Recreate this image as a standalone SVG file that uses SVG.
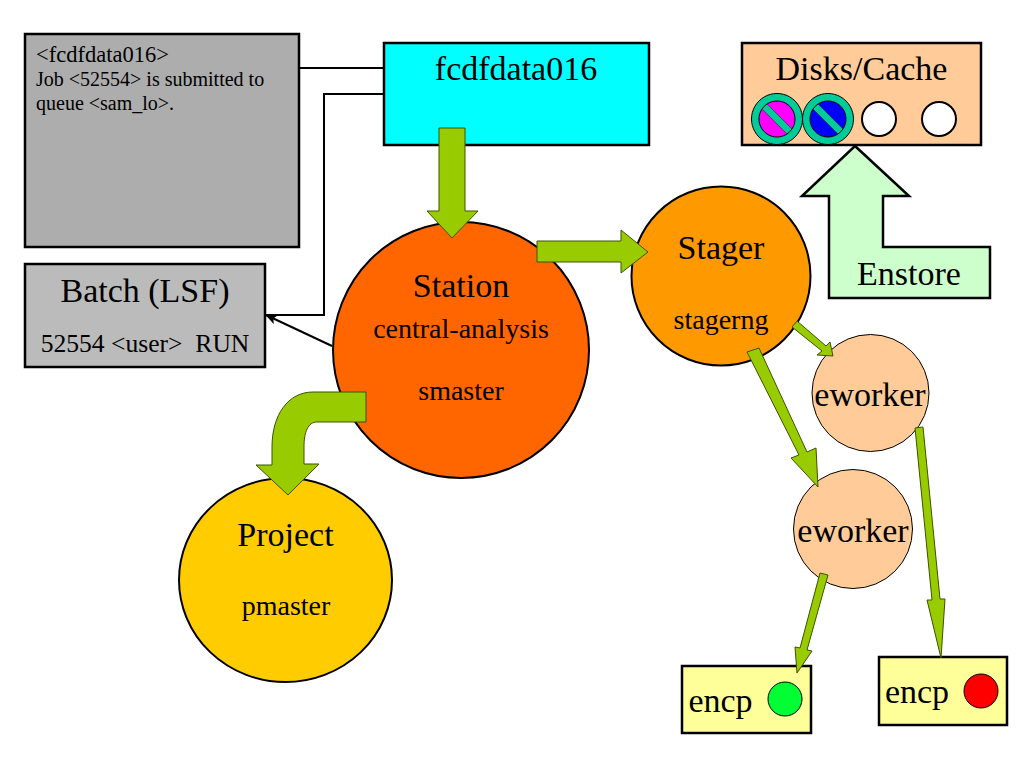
<svg xmlns="http://www.w3.org/2000/svg" width="1024" height="768" viewBox="0 0 1024 768">
<style>
text{font-family:"Liberation Serif","Times New Roman",serif;fill:#000;text-anchor:middle}
.box{stroke:#000;stroke-width:2.5}
.c{stroke:#000;stroke-width:2}
.g{fill:#99cc00;stroke:#3d5200;stroke-width:1}
.l{fill:none;stroke:#000;stroke-width:2}
.s{text-anchor:start}
.t{font-size:34px}
.m{font-size:28px}
.ring{fill:#00cc99;fill-rule:evenodd;stroke:#000;stroke-width:1}
.bar{fill:#00cc99;stroke:#333;stroke-width:.7}
</style>
<defs>
<marker id="ah" markerUnits="userSpaceOnUse" markerWidth="12" markerHeight="10" refX="11" refY="5" orient="auto"><path d="M0 0L12 5L0 10L3 5Z" fill="#000"/></marker>
<g id="no"><path class="bar" d="M-16 -11L-11 -16L16 11L11 16Z"/><path class="ring" d="M0 -25.5a25.5 25.5 0 1 0 .01 0ZM0 -18a18 18 0 1 1 -.01 0Z"/></g>
</defs>
<rect width="1024" height="768" fill="#fff"/>
<g id="output"><rect class="box" x="25" y="34" width="274" height="213" fill="#adadad"/>
<text class="s" x="36" y="62" font-size="22.5">&lt;fcdfdata016&gt;</text>
<text class="s" x="36" y="86" font-size="20">Job &lt;52554&gt; is submitted to</text>
<text class="s" x="36" y="110" font-size="20">queue &lt;sam_lo&gt;.</text></g>
<g id="batch"><rect class="box" x="25" y="264" width="240" height="103" fill="#bbb"/>
<text class="t" x="145" y="302">Batch (LSF)</text>
<text x="145" y="352" font-size="25.6" xml:space="preserve">52554 &lt;user&gt;  RUN</text></g>
<g id="fcdfdata016"><rect class="box" x="384" y="43" width="265" height="102" fill="#00ffff"/>
<text class="t" x="516" y="80">fcdfdata016</text></g>
<g id="station"><circle class="c" cx="461" cy="350" r="128" fill="#ff6600"/>
<text class="t" x="461" y="297">Station</text>
<text class="m" x="461" y="338">central-analysis</text>
<text class="m" x="461" y="400">smaster</text></g>
<g id="stager"><circle class="c" cx="721" cy="276" r="89.5" fill="#ff9900"/>
<text class="t" x="721" y="259">Stager</text>
<text class="m" x="721" y="329">stagerng</text></g>
<g id="project"><ellipse class="c" cx="285.5" cy="580" rx="106.5" ry="102" fill="#ffcc00"/>
<text class="t" x="285.5" y="546">Project</text>
<text class="m" x="286" y="615">pmaster</text></g>
<g id="eworker1"><circle cx="870.5" cy="393" r="58.5" fill="#ffcc99" stroke="#000"/>
<text class="t" x="870" y="406">eworker</text></g>
<g id="eworker2"><circle cx="853" cy="529" r="59.5" fill="#ffcc99" stroke="#000"/>
<text class="t" x="853" y="542">eworker</text></g>
<g id="disks"><rect class="box" x="742" y="43" width="239" height="102" fill="#ffcc99"/>
<text class="t" x="861.5" y="80">Disks/Cache</text>
<circle cx="777" cy="119" r="18" fill="#ff00ff"/>
<use href="#no" x="777" y="119"/>
<circle cx="828" cy="119" r="18" fill="#0000ff"/>
<use href="#no" x="828" y="119"/>
<circle cx="879" cy="119" r="17" fill="#fff" stroke="#000" stroke-width="2"/>
<circle cx="939" cy="119" r="17" fill="#fff" stroke="#000" stroke-width="2"/></g>
<g id="enstore"><path d="M855 146L909 196H883V247H990V298H829V196H802Z" fill="#ccffcc" stroke="#000" stroke-width="2.5"/>
<text class="t" x="909" y="285">Enstore</text></g>
<g id="encp1"><rect class="box" x="682" y="666" width="129" height="67" fill="#ffff99"/>
<text class="t" x="720.5" y="712">encp</text>
<circle cx="785" cy="699" r="17" fill="#00ff33" stroke="#000"/></g>
<g id="encp2"><rect class="box" x="879" y="657" width="128" height="68" fill="#ffff99"/>
<text class="t" x="917" y="703">encp</text>
<circle cx="981" cy="691" r="17" fill="#ff0000" stroke="#000"/></g>
<g id="connectors">
<path class="l" d="M299 68H384"/>
<path class="l" d="M384 94H324V315H266"/>
<path class="l" d="M332 346L266 315" marker-end="url(#ah)"/>
<path class="g" d="M439 128H465V211H478L452 238L427 211H439Z"/>
<path class="g" d="M537 241H621V230L648 252L621 273V262H537Z"/>
<path class="g" d="M366 392H313C288 392 272 415 272 447V465H256L288 495L319 464H304V447C304 432 308 422 317 422H366Z"/>
<path class="g" d="M747 352L759 348L807 452L816 448L818 487L791 458L799 455Z"/>
<path class="g" d="M792 327L797 321L826 346L830 342L833 356L817 355L822 351Z"/>
<path class="g" d="M915 428L923 427L940 599L945 599L941 658L927 600L932 600Z"/>
<path class="g" d="M820 573L828 575L807 650L812 651L797 673L795 647L800 648Z"/>
</g>
</svg>
